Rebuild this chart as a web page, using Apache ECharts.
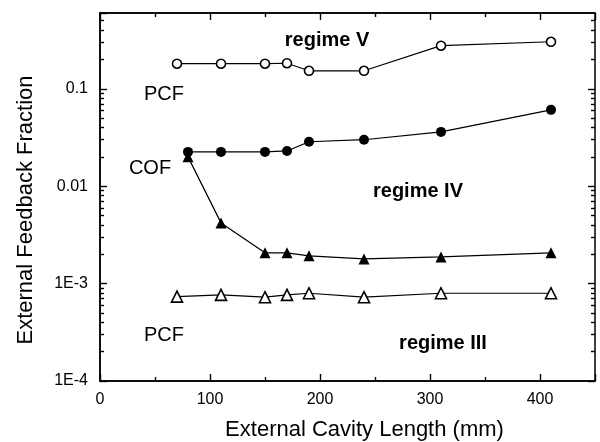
<!DOCTYPE html>
<html>
<head>
<meta charset="utf-8">
<script src="https://cdn.jsdelivr.net/npm/echarts@6/dist/echarts.min.js"></script>
<style>html,body{margin:0;padding:0;background:#fff}#c{width:600px;height:442px}</style>
</head>
<body>
<div id="c"></div>
<script>
// ---- data ----
const xPCF = [70, 110, 150, 170, 190, 240, 310, 410];
const xCOF = [80, 110, 150, 170, 190, 240, 310, 410];
const pcfUpper = [0.181, 0.181, 0.181, 0.183, 0.153, 0.153, 0.277, 0.304];
const cofUpper = [0.0225, 0.0225, 0.0225, 0.023, 0.0286, 0.030, 0.0361, 0.0608];
const cofLower = [0.020, 0.0042, 0.00207, 0.00207, 0.00193, 0.00179, 0.00188, 0.00207];
const pcfLower = [0.000735, 0.000766, 0.000725, 0.000766, 0.000796, 0.000725, 0.000796, 0.000796];
const xTicks = [0, 100, 200, 300, 400];
const yTickValues = [1e-4, 1e-3, 0.01, 0.1];
const yTickLabels = ['1E-4', '1E-3', '0.01', '0.1'];
const annotations = [
  { text: 'regime V', x: 327, y: 40, bold: true },
  { text: 'regime IV', x: 418, y: 191, bold: true },
  { text: 'regime III', x: 443, y: 343, bold: true },
  { text: 'PCF', x: 164, y: 94, bold: false },
  { text: 'COF', x: 150, y: 168, bold: false },
  { text: 'PCF', x: 164, y: 335, bold: false }
];

const FONT = '"Liberation Sans", Arial, Helvetica, sans-serif';
const yMin = 1e-4, yMax = 0.6;
const logMin = Math.log10(yMin), logMax = Math.log10(yMax);
// tick positions (log space): majors at decades, minors at 2..9 x decade
const majorLog = yTickValues.map(v => Math.log10(v));
const minorLog = [];
for (let d = -4; d <= -1; d++) for (let k = 2; k <= 9; k++) {
  const v = Math.log10(k * Math.pow(10, d));
  if (v < logMax) minorLog.push(v);
}

function pairs(xs, ys) { return xs.map((x, i) => [x, ys[i]]); }
function yLabel(v) {
  for (let i = 0; i < yTickValues.length; i++)
    if (Math.abs(Math.log10(v) - Math.log10(yTickValues[i])) < 1e-6) return yTickLabels[i];
  return '';
}

const chart = echarts.init(document.getElementById('c'), null, { renderer: 'canvas' });
const lineC = '#000';
function axLine(show) { return { show: show, onZero: false, lineStyle: { color: lineC, width: 1.5 } }; }
function tick(len, custom) {
  const t = { show: true, inside: true, length: len, lineStyle: { color: lineC, width: 1.4 } };
  if (custom) t.customValues = custom;
  return t;
}
function tickAxis(pos, len, values) {
  return {
    type: 'value', min: logMin, max: logMax, position: pos,
    axisLine: axLine(false), splitLine: { show: false },
    axisTick: tick(len, values), axisLabel: { show: false }
  };
}

function makeX(pos, labels) {
  const ax = {
    type: 'value', min: 0, max: 450, interval: 100, position: pos,
    axisLine: axLine(true), splitLine: { show: false },
    axisTick: tick(7),
    minorTick: { show: true, splitNumber: 2, length: 4, lineStyle: { color: lineC, width: 1.4 } },
    minorSplitLine: { show: false },
    axisLabel: { show: false }
  };
  if (labels) {
    ax.name = 'External Cavity Length (mm)';
    ax.nameLocation = 'middle';
    ax.nameGap = 38;
    ax.nameTextStyle = { fontFamily: FONT, fontSize: 22, color: '#000', padding: [0, 0, 0, 34] };
    ax.axisLabel = { show: true, margin: 11, fontFamily: FONT, fontSize: 16, color: '#000', customValues: xTicks };
  }
  return ax;
}

const option = {
  animation: false,
  backgroundColor: '#fff',
  grid: { left: 100, right: 5, top: 13, bottom: 61, containLabel: false, outerBoundsMode: 'none',
    show: true, borderColor: '#000', borderWidth: 1.5, backgroundColor: 'transparent' },
  xAxis: [ makeX('bottom', true), makeX('top', false) ],
  yAxis: [
    {
      type: 'log', logBase: 10, min: yMin, max: yMax, position: 'left',
      axisLine: axLine(true), splitLine: { show: false },
      axisTick: tick(7),
      axisLabel: { show: true, margin: 12, fontFamily: FONT, fontSize: 16, color: '#000', formatter: yLabel },
      name: 'External Feedback Fraction', nameLocation: 'middle', nameGap: 63,
      nameTextStyle: { fontFamily: FONT, fontSize: 22, color: '#000', padding: [0, 26, 0, 0] }
    },
    tickAxis('left', 4, minorLog),
    tickAxis('right', 7, majorLog),
    tickAxis('right', 4, minorLog)
  ],
  series: [
    {
      type: 'line', name: 'PCF upper', data: pairs(xPCF, pcfUpper),
      symbol: 'circle', symbolSize: 9,
      lineStyle: { color: '#000', width: 1.2 },
      itemStyle: { color: '#fff', borderColor: '#000', borderWidth: 1.6 }
    },
    {
      type: 'line', name: 'COF lower', data: pairs(xCOF, cofLower),
      symbol: 'triangle', symbolSize: 11,
      lineStyle: { color: '#000', width: 1.2 },
      itemStyle: { color: '#000', borderColor: '#000', borderWidth: 0 }
    },
    {
      type: 'line', name: 'COF upper', data: pairs(xCOF, cofUpper),
      symbol: 'circle', symbolSize: 10,
      lineStyle: { color: '#000', width: 1.2 },
      itemStyle: { color: '#000', borderColor: '#000', borderWidth: 0 }
    },
    {
      type: 'line', name: 'PCF lower', data: pairs(xPCF, pcfLower),
      symbol: 'triangle', symbolSize: 11,
      lineStyle: { color: '#000', width: 1.2 },
      itemStyle: { color: '#fff', borderColor: '#000', borderWidth: 1.6 }
    }
  ],
  graphic: annotations.map(a => ({
    type: 'text', x: a.x, y: a.y, z: 10,
    style: {
      text: a.text, fill: '#000',
      font: (a.bold ? 'bold ' : '') + '20px ' + FONT,
      align: 'center', verticalAlign: 'middle',
      textAlign: 'center', textVerticalAlign: 'middle'
    }
  }))
};
chart.setOption(option);
</script>
</body>
</html>
